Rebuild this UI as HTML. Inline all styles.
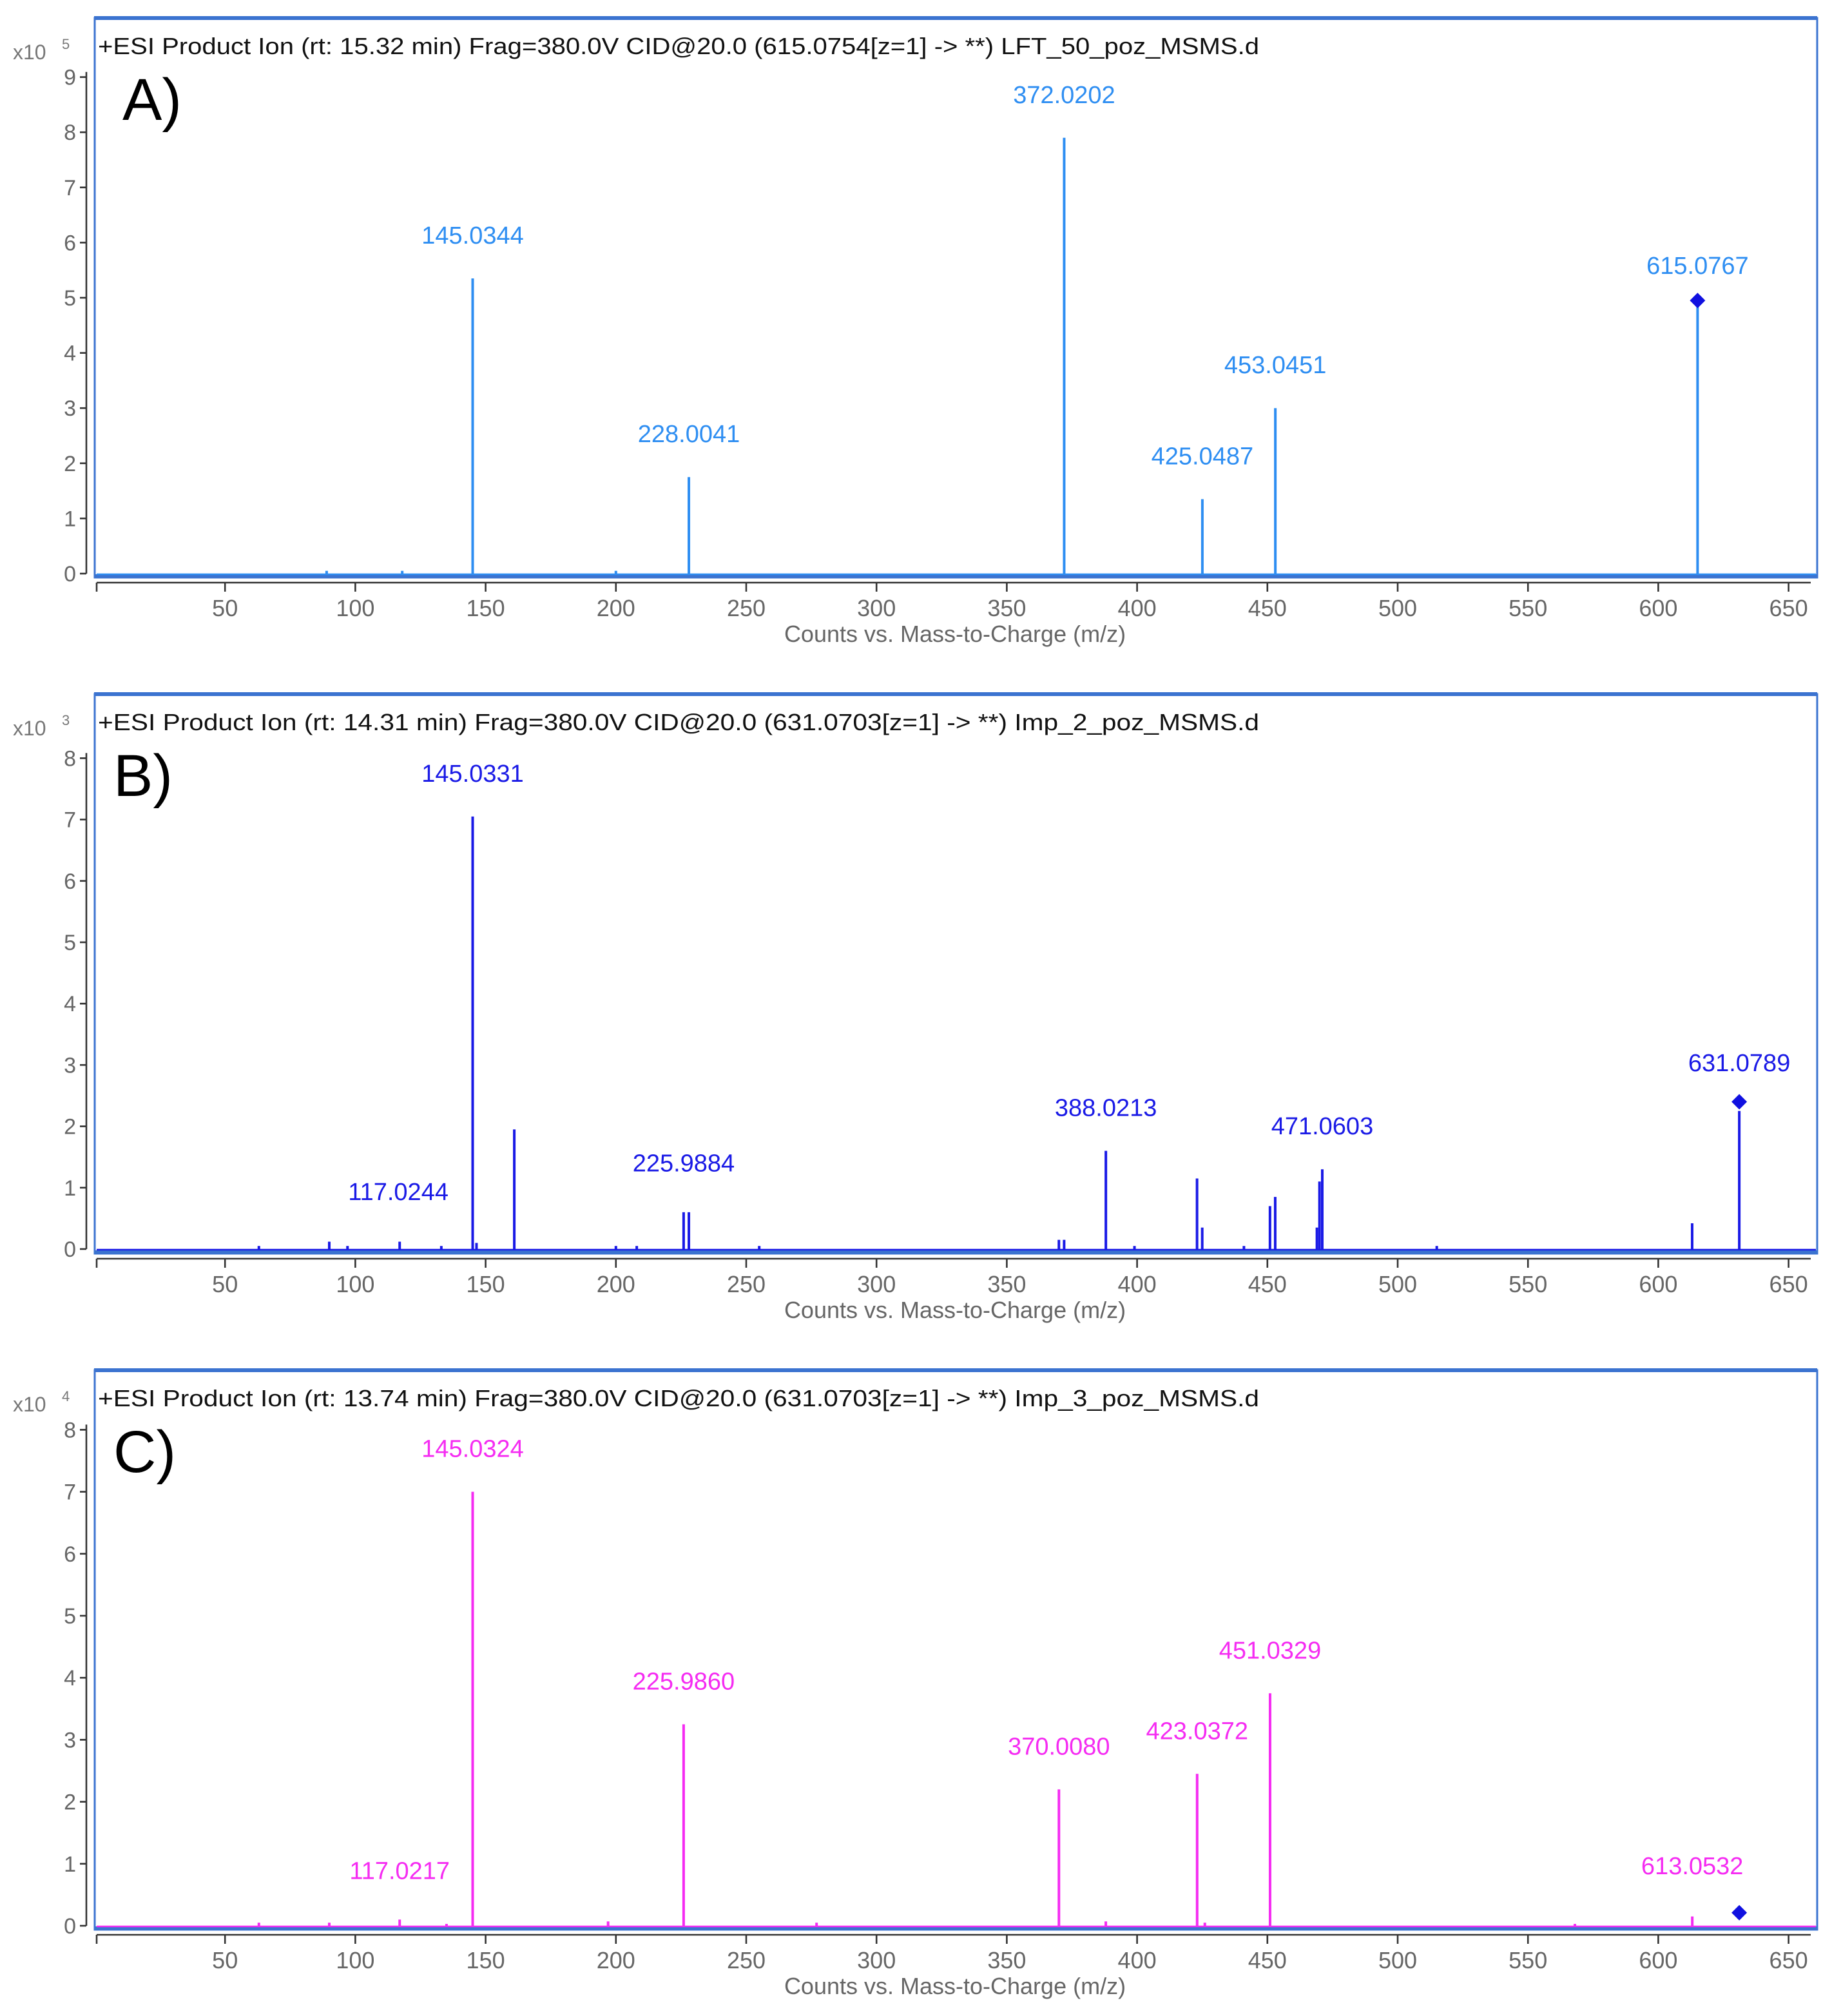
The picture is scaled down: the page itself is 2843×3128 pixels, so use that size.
<!DOCTYPE html>
<html><head><meta charset="utf-8"><style>
html,body{margin:0;padding:0;background:#fff;}
svg{display:block;}
text{font-family:"Liberation Sans Narrow","Liberation Sans",sans-serif;}
</style></head><body>
<svg id="chart" xmlns="http://www.w3.org/2000/svg" width="2843" height="3128" viewBox="0 0 1421.5 1564"></svg>
<script>
// ---- data ----
const xTicks = [50,100,150,200,250,300,350,400,450,500,550,600,650];
const titlesAll = [
 "+ESI Product Ion (rt: 15.32 min) Frag=380.0V CID@20.0 (615.0754[z=1] -> **) LFT_50_poz_MSMS.d",
 "+ESI Product Ion (rt: 14.31 min) Frag=380.0V CID@20.0 (631.0703[z=1] -> **) Imp_2_poz_MSMS.d",
 "+ESI Product Ion (rt: 13.74 min) Frag=380.0V CID@20.0 (631.0703[z=1] -> **) Imp_3_poz_MSMS.d"
];
const letters = ["A)","B)","C)"];
const exps = ["5","3","4"];
const yMaxes = [9,8,8];

const mzA = [89,118,145.03,200,228.00,372.02,425.05,453.05,615.08];
const intA = [0.05,0.05,5.35,0.05,1.75,7.9,1.35,3.0,4.85];
const lblA = ["145.0344","228.0041","372.0202","425.0487","453.0451","615.0767"];
const lblMzA = [145.03,228.00,372.02,425.05,453.05,615.08];
const lblLvA = [5.35,1.75,7.9,1.35,3.0,4.8];
const diaA = [615.08,4.95];

const mzB = [63,90,97,117.02,133,145.03,146.5,161,200,208,225.99,228,255,370,372,388.02,399,423,425,441,451,453,469,470,471.06,515,613,631.08];
const intB = [0.05,0.12,0.05,0.12,0.05,7.05,0.1,1.95,0.05,0.05,0.6,0.6,0.05,0.15,0.15,1.6,0.05,1.15,0.35,0.05,0.7,0.85,0.35,1.1,1.3,0.05,0.42,2.25];
const lblB = ["117.0244","145.0331","225.9884","388.0213","471.0603","631.0789"];
const lblMzB = [116.5,145.03,226,388.02,471.06,631.08];
const lblLvB = [0.23,7.05,0.7,1.6,1.3,2.33];
const diaB = [631.08,2.4];

const mzC = [63,90,117.02,135,145.03,197,225.99,277,370.01,388,423.04,426,451.03,568,613.05];
const intC = [0.05,0.05,0.1,0.03,7.0,0.07,3.25,0.05,2.2,0.07,2.45,0.05,3.75,0.03,0.15];
const lblC = ["117.0217","145.0324","225.9860","370.0080","423.0372","451.0329","613.0532"];
const lblMzC = [117.02,145.03,225.99,370.01,423.04,451.03,613.05];
const lblLvC = [0.19,7.0,3.25,2.2,2.45,3.75,0.27];
const diaC = [631.08,0.21];

const panels = [
 {top:14, y0:445, unit:42.8, color:"#2e8ef2", mz:mzA, it:intA, lbl:lblA, lmz:lblMzA, llv:lblLvA, dia:diaA},
 {top:538.5, y0:969, unit:47.6, color:"#1a1ae6", mz:mzB, it:intB, lbl:lblB, lmz:lblMzB, llv:lblLvB, dia:diaB},
 {top:1063, y0:1494, unit:48.1, color:"#f52cf2", mz:mzC, it:intC, lbl:lblC, lmz:lblMzC, llv:lblLvC, dia:diaC}
];

const NS="http://www.w3.org/2000/svg";
const svg=document.getElementById('chart');
function mk(tag,attrs,parent,txt){const e=document.createElementNS(NS,tag);for(const k in attrs)e.setAttribute(k,attrs[k]);if(txt!==undefined)e.textContent=txt;(parent||svg).appendChild(e);return e;}
const xs = m => 73.5 + m*2.022;

panels.forEach((p,i)=>{
  const g=mk('g',{});
  
  
  const ys = v => p.y0 - v*p.unit;
  const bot = p.top+434;
  const fr=mk('rect',{x:73.5,y:p.top,width:1336.5,height:434,fill:'none',stroke:'#3b73d0','stroke-width':1.5},g);
  
  
  mk('line',{x1:73,y1:p.top,x2:1410,y2:p.top,stroke:'#3b73d0','stroke-width':3},g);
  mk('line',{x1:73,y1:bot-1,x2:1410,y2:bot-1,stroke:'#3b73d0','stroke-width':3},g);
  mk('line',{x1:75,y1:p.y0+0.5,x2:1409,y2:p.y0+0.5,stroke:p.color,'stroke-width':1.2},g);
  const t=mk('text',{x:76,y:p.top+28,'font-size':18,fill:'#111',textLength:901,lengthAdjust:'spacingAndGlyphs'},g,titlesAll[i]);
  
  
  const L=mk('text',{x:i==0?95:88,y:p.top+79,'font-size':46,fill:'#000','font-family':'Liberation Sans, sans-serif'},g,letters[i]);
  
  
  const ya=mk('line',{x1:67,y1:ys(yMaxes[i])-4,x2:67,y2:p.y0,stroke:'#333','stroke-width':1.3},g);
  
  
  for(let v=0;v<=yMaxes[i];v++){
    mk('line',{x1:62,y1:ys(v),x2:67,y2:ys(v),stroke:'#333','stroke-width':1.3},g);
    const tl=mk('text',{x:59,y:ys(v)+6,'font-size':17,fill:'#666','text-anchor':'end'},g,String(v));
    
    
  }
  const ex=mk('text',{x:10,y:p.top+32,'font-size':16,fill:'#777'},g,'x10');
  
  
  mk('text',{x:48,y:p.top+24,'font-size':11,fill:'#777'},g,exps[i]);
  const xaY=bot+4;
  const xa=mk('line',{x1:75,y1:xaY,x2:1405,y2:xaY,stroke:'#333','stroke-width':1.3},g);
  
  
  mk('line',{x1:75,y1:xaY,x2:75,y2:xaY+7,stroke:'#333','stroke-width':1.3},g);
  xTicks.forEach(m=>{
    mk('line',{x1:xs(m),y1:xaY,x2:xs(m),y2:xaY+7,stroke:'#333','stroke-width':1.3},g);
    const tl=mk('text',{x:xs(m),y:xaY+26,'font-size':18,fill:'#666','text-anchor':'middle'},g,String(m));
    
    
  });
  const xt=mk('text',{x:741,y:xaY+46,'font-size':18,fill:'#666','text-anchor':'middle'},g,'Counts vs. Mass-to-Charge (m/z)');
  
  
  p.mz.forEach((m,k)=>{
    const pk=mk('line',{x1:xs(m),y1:ys(p.it[k]),x2:xs(m),y2:p.y0,stroke:p.color,'stroke-width':2},g);
    
    
  });
  p.lbl.forEach((s,k)=>{
    const lt=mk('text',{x:xs(p.lmz[k]),y:ys(p.llv[k])-27,'font-size':19,fill:p.color,'text-anchor':'middle'},g,s);
    
    
  });
  const dx=xs(p.dia[0]), dy=ys(p.dia[1]);
  const d=mk('polygon',{points:`${dx},${dy-6} ${dx+6},${dy} ${dx},${dy+6} ${dx-6},${dy}`,fill:'#1010e0'},g);
  
  
});
</script>
</body></html>
